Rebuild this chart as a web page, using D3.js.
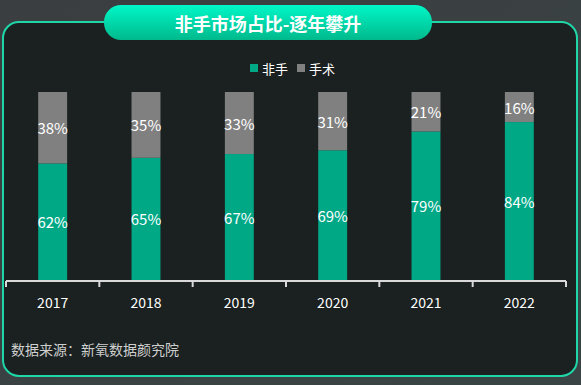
<!DOCTYPE html>
<html>
<head>
<meta charset="utf-8">
<script src="https://cdn.jsdelivr.net/npm/d3@7"></script>
<style>
  html, body { margin: 0; padding: 0; background: #3a3e40; }
  svg { display: block; font-family: "Noto Sans CJK SC", "Noto Sans", sans-serif; }
</style>
</head>
<body>
<svg id="chart"></svg>
<script>
const years = ["2017", "2018", "2019", "2020", "2021", "2022"];
const nonSurgical = [62, 65, 67, 69, 79, 84];
const surgical = [38, 35, 33, 31, 21, 16];
const seriesNames = ["非手", "手术"];
const colors = ["#00a886", "#808080"];

const width = 581;
const height = 385;

const svg = d3.select("#chart").attr("width", width).attr("height", height);

// background + panel
const defs = svg.append("defs");
const bg = defs.append("linearGradient").attr("id", "bg").attr("x1", 0).attr("y1", 0).attr("x2", 1).attr("y2", 1);
bg.append("stop").attr("offset", "0%").attr("stop-color", "#3b3e40");
bg.append("stop").attr("offset", "100%").attr("stop-color", "#3a4444");
const pill = defs.append("linearGradient").attr("id", "pill").attr("x1", 0).attr("y1", 0).attr("x2", 0).attr("y2", 1);
pill.append("stop").attr("offset", "0%").attr("stop-color", "#00f7c8");
pill.append("stop").attr("offset", "100%").attr("stop-color", "#00b98c");

svg.append("rect").attr("width", width).attr("height", height).attr("fill", "url(#bg)");
svg.append("rect")
  .attr("x", 3).attr("y", 22).attr("width", 574).attr("height", 354)
  .attr("rx", 16)
  .attr("fill", "#1a2120")
  .attr("stroke", "#1fd6a8")
  .attr("stroke-width", 2);

// title pill
svg.append("rect")
  .attr("x", 104).attr("y", 5).attr("width", 328).attr("height", 35)
  .attr("rx", 17)
  .attr("fill", "url(#pill)");
svg.append("text")
  .attr("x", 268).attr("y", 23)
  .attr("text-anchor", "middle").attr("dominant-baseline", "central")
  .attr("fill", "#fff").attr("font-size", 18).attr("font-weight", "bold")
  .text("非手市场占比-逐年攀升");

// legend
const legend = svg.append("g").attr("transform", "translate(250,68)");
const legendX = [0, 47];
seriesNames.forEach((name, i) => {
  const g = legend.append("g").attr("transform", `translate(${legendX[i]},0)`);
  g.append("rect").attr("x", 0).attr("y", -4).attr("width", 8).attr("height", 8).attr("fill", colors[i]);
  g.append("text").attr("x", 12).attr("y", 0)
    .attr("dominant-baseline", "central")
    .attr("fill", "#fff").attr("font-size", 13)
    .text(name);
});

// scales
const x = d3.scaleBand().domain(years).range([6, 566]).paddingInner(0.69).paddingOuter(0.345);
const y = d3.scaleLinear().domain([0, 100]).range([280, 92]);

const data = years.map((yr, i) => ({ year: yr, a: nonSurgical[i], b: surgical[i] }));

const bars = svg.append("g");
bars.selectAll("rect.a").data(data).join("rect")
  .attr("class", "a")
  .attr("x", (d) => x(d.year)).attr("width", x.bandwidth())
  .attr("y", (d) => y(d.a)).attr("height", (d) => y(0) - y(d.a))
  .attr("fill", colors[0]);
bars.selectAll("rect.b").data(data).join("rect")
  .attr("class", "b")
  .attr("x", (d) => x(d.year)).attr("width", x.bandwidth())
  .attr("y", (d) => y(d.a + d.b)).attr("height", (d) => y(d.a) - y(d.a + d.b))
  .attr("fill", colors[1]);

// value labels
const labels = svg.append("g").attr("fill", "#fff").attr("font-size", 15).attr("text-anchor", "middle");
labels.selectAll("text.a").data(data).join("text")
  .attr("x", (d) => x(d.year) + x.bandwidth() / 2)
  .attr("y", (d) => (y(0) + y(d.a)) / 2)
  .attr("dominant-baseline", "central")
  .text((d) => d.a + "%");
labels.selectAll("text.b").data(data).join("text")
  .attr("x", (d) => x(d.year) + x.bandwidth() / 2)
  .attr("y", (d) => (y(d.a) + y(d.a + d.b)) / 2)
  .attr("dominant-baseline", "central")
  .text((d) => d.b + "%");

// x axis
const axis = svg.append("g").attr("transform", "translate(0,281)");
axis.append("line").attr("x1", 6).attr("x2", 566).attr("stroke", "#d9d9d9").attr("stroke-width", 2);
const tickPos = years.map((yr) => x(yr) - x.step() * x.paddingInner() / 2 + 0).concat([566]);
tickPos[0] = 6;
axis.selectAll("line.tick").data(tickPos).join("line")
  .attr("class", "tick")
  .attr("x1", (d) => d).attr("x2", (d) => d)
  .attr("y1", 0).attr("y2", 6)
  .attr("stroke", "#d9d9d9").attr("stroke-width", 2);
axis.selectAll("text").data(years).join("text")
  .attr("x", (d) => x(d) + x.bandwidth() / 2)
  .attr("y", 21)
  .attr("dominant-baseline", "central")
  .attr("text-anchor", "middle")
  .attr("fill", "#fff").attr("font-size", 14)
  .text((d) => d);

// source
svg.append("text")
  .attr("x", 11).attr("y", 349)
  .attr("dominant-baseline", "central")
  .attr("fill", "#cfcfcf").attr("font-size", 14)
  .text("数据来源：新氧数据颜究院");
</script>
</body>
</html>
